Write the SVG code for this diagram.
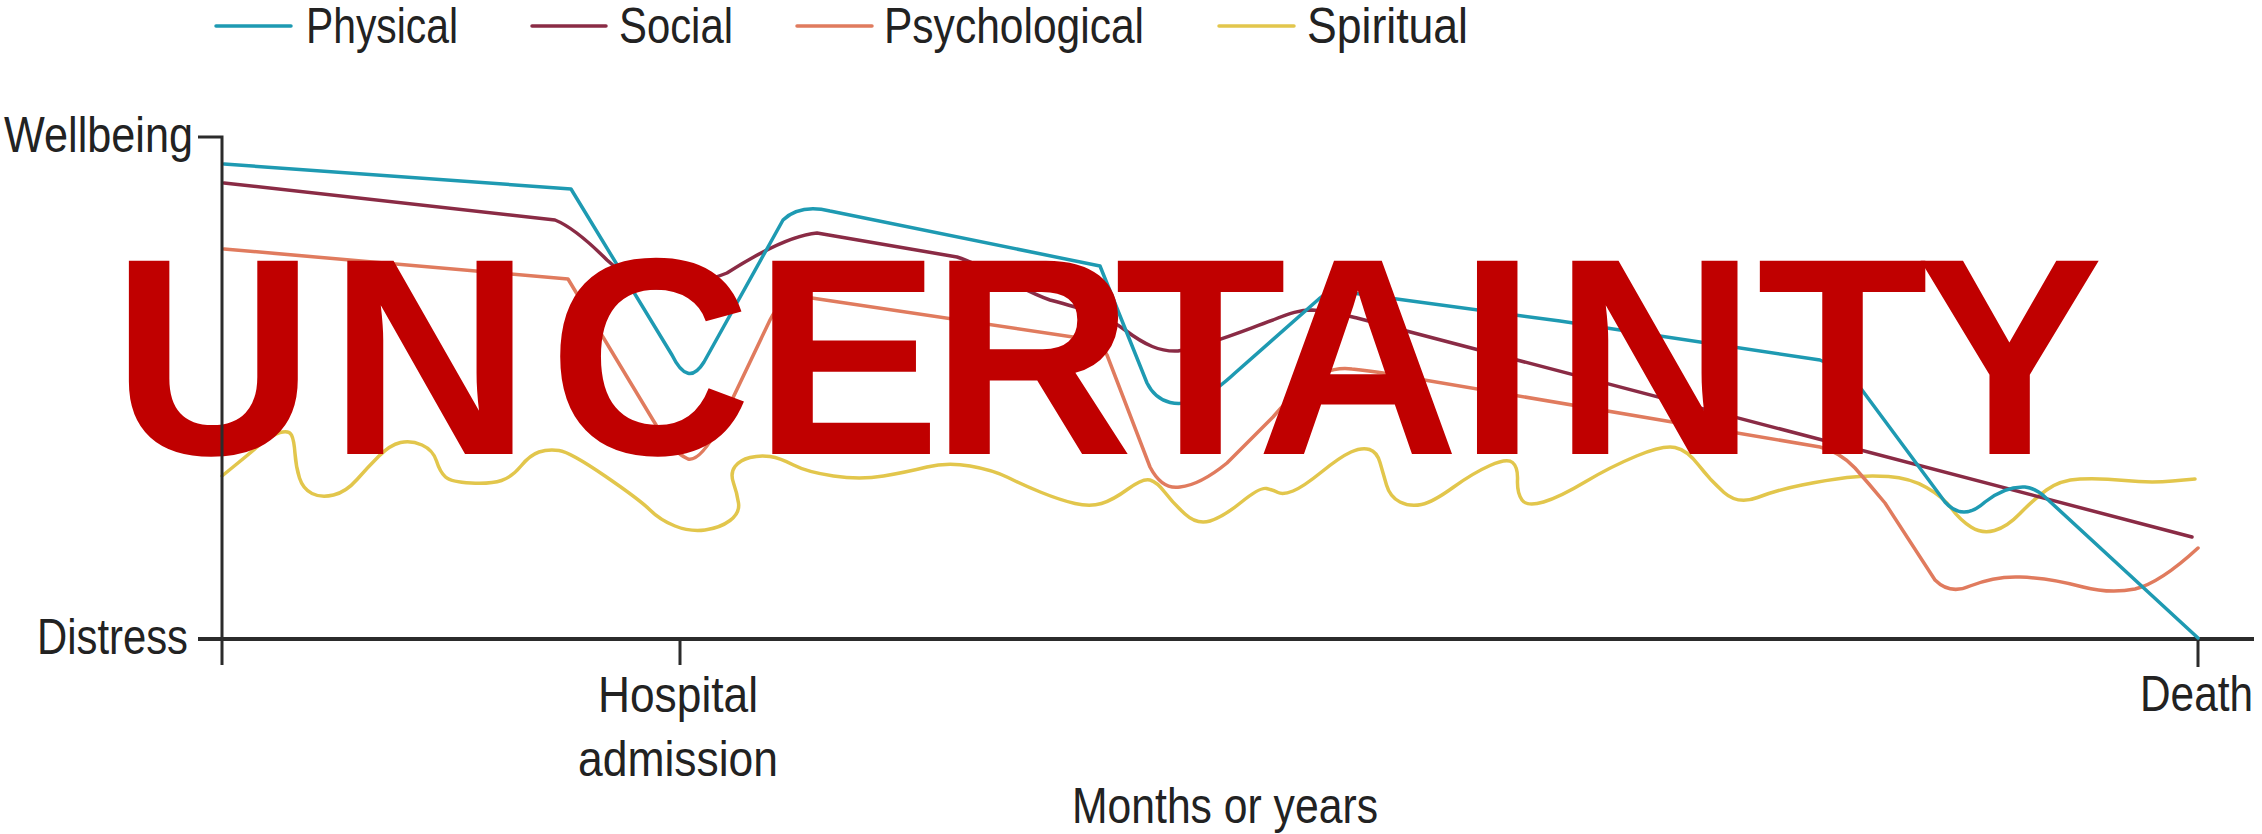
<svg xmlns="http://www.w3.org/2000/svg" width="2262" height="834" viewBox="0 0 2262 834">
<style>
.lbl{font-family:"Liberation Sans",Arial,sans-serif;font-size:50px;fill:#222;}
.ax{stroke:#2b2b2b;fill:none;stroke-linecap:butt;}
.crv{fill:none;stroke-width:3.5;stroke-linejoin:round;stroke-linecap:round;}
.phy{stroke:#1e9ab2;}
.soc{stroke:#8a2b45;}
.psy{stroke:#e07b5e;}
.spi{stroke:#e2c64c;}
.big{font-family:"Liberation Sans",Arial,sans-serif;font-weight:bold;font-size:281px;fill:#c00000;}
</style>
<rect width="2262" height="834" fill="#fff"/>
<g id="legend">
<line class="crv phy" x1="216" y1="26" x2="291" y2="26" stroke-linecap="butt" stroke-width="4"/>
<text class="lbl" x="306" y="43" textLength="152" lengthAdjust="spacingAndGlyphs">Physical</text>
<line class="crv soc" x1="532" y1="26" x2="606" y2="26" stroke-linecap="butt" stroke-width="4"/>
<text class="lbl" x="619" y="43" textLength="114" lengthAdjust="spacingAndGlyphs">Social</text>
<line class="crv psy" x1="797" y1="26" x2="872" y2="26" stroke-linecap="butt" stroke-width="4"/>
<text class="lbl" x="884" y="43" textLength="260" lengthAdjust="spacingAndGlyphs">Psychological</text>
<line class="crv spi" x1="1219" y1="26" x2="1294" y2="26" stroke-linecap="butt" stroke-width="4"/>
<text class="lbl" x="1307" y="43" textLength="161" lengthAdjust="spacingAndGlyphs">Spiritual</text>
</g>
<g id="axes">
<path class="ax" stroke-width="4" d="M198,639 H2254"/>
<line class="ax" stroke-width="3" x1="680" y1="639" x2="680" y2="665"/>
<line class="ax" stroke-width="3" x1="2198" y1="639" x2="2198" y2="667"/>
<text class="lbl" x="4" y="152" textLength="189" lengthAdjust="spacingAndGlyphs">Wellbeing</text>
<text class="lbl" x="37" y="654" textLength="151" lengthAdjust="spacingAndGlyphs">Distress</text>
<text class="lbl" x="598" y="712" textLength="160" lengthAdjust="spacingAndGlyphs">Hospital</text>
<text class="lbl" x="578" y="776" textLength="200" lengthAdjust="spacingAndGlyphs">admission</text>
<text class="lbl" x="2140" y="711" textLength="113" lengthAdjust="spacingAndGlyphs">Death</text>
<text class="lbl" x="1072" y="823" textLength="306" lengthAdjust="spacingAndGlyphs">Months or years</text>
</g>
<g id="connectors">
<path id="spiritual" class="crv spi" d="M222,476 L235.5,465 Q249,454 260,444.5 Q271,435 280,432.5 Q289,430 291.5,435 Q294,440 295,453.5 Q296,467 299.5,478 Q303,489 312,493.5 Q321,498 333.5,495 Q346,492 357,479.5 Q368,467 379,456 Q390,445 400.5,442.5 Q411,440 422,445 Q433,450 436.5,461 Q440,472 445.5,477 Q451,482 471,483 Q491,484 501.5,480.5 Q512,477 521,466 Q530,455 539,452 Q548,449 559,450.5 Q570,452 605,476 Q640,500 650,510 Q660,520 675,526 Q690,532 705,530 Q720,528 730,520.5 Q740,513 738.5,503 Q737,493 733.5,483 Q730,473 735,466.5 Q740,460 750,457.5 Q760,455 770,456.5 Q780,458 793.5,465 Q807,472 833.5,476 Q860,480 883.5,476 Q907,472 927,467 Q947,462 970,466 Q993,470 1008,477.5 Q1023,485 1041.5,492.5 Q1060,500 1075,503.5 Q1090,507 1101.5,503.5 Q1113,500 1128,489 Q1143,478 1150,480 Q1157,482 1165,492.5 Q1173,503 1185,514 Q1197,525 1210,521 Q1223,517 1241.5,502 Q1260,487 1266.5,488.5 Q1273,490 1278,492.5 Q1283,495 1293,491 Q1303,487 1321.5,472 Q1340,457 1351,452 Q1362,447 1369.5,449.5 Q1377,452 1380,462.5 Q1383,473 1386.5,485 Q1390,497 1400,502 Q1410,507 1421.5,504.5 Q1433,502 1453,487.5 Q1473,473 1490,465.5 Q1507,458 1512.5,462.5 Q1518,467 1517.5,480 Q1517,493 1522,500 Q1527,507 1543.5,502 Q1560,497 1585,482 Q1610,467 1636.5,456 Q1663,445 1675,447.5 Q1687,450 1698.5,465 Q1710,480 1724,492.5 Q1738,505 1757.5,497.5 Q1777,490 1802,485 Q1827,480 1847,477.5 Q1867,475 1888.5,476.5 Q1910,478 1926.5,487.5 Q1943,497 1951.5,508.5 Q1960,520 1971,527 Q1982,534 1994.5,530.5 Q2007,527 2020,513.5 Q2033,500 2046.5,490 Q2060,480 2080,479 Q2100,478 2125,480.5 Q2150,483 2172.5,481 L2195,479"/>
<path id="psychological" class="crv psy" d="M224,249 L568,279 L653,420 Q672,452 688,459 Q700,462 720,425 L770,320 Q782,296 805,297 L1093,340 Q1100,343 1107,355 L1150,467 Q1162,490 1180,487 Q1200,485 1227,463 L1273,417 Q1300,385 1323,373 Q1338,367 1352,369 Q1370,371 1383,373 L1820,447 Q1840,452 1855,468 Q1870,485 1885,503 L1935,580 Q1950,595 1970,586 Q1995,576 2020,577 Q2050,578 2083,587 Q2110,594 2135,589 Q2160,583 2198,548"/>
<path id="social" class="crv soc" d="M224,183 L555,220 Q575,228 607,260 Q640,290 660,288 Q700,284 727,273 Q785,236 817,233 L957,257 C990,268 1020,290 1050,300 C1080,308 1105,315 1125,330 C1145,345 1160,352 1178,351 C1210,345 1245,330 1273,320 C1290,313 1300,310 1312,310 C1330,311 1345,315 1357,318 L2192,537"/>
<path id="physical" class="crv phy" d="M224,164 L571,189 L672,355 Q688,388 704,362 L783,220 Q800,204 830,211 L1100,266 L1147,383 C1158,405 1180,408 1200,398 C1215,390 1222,385 1235,373 L1320,298 Q1330,290 1345,292 L1560,321 L1820,360 Q1845,370 1862,390 L1945,502 Q1963,522 1985,502 Q2005,486 2025,487 Q2035,488 2045,497 L2198,638"/>
</g>
<g id="title">
<text class="big" x="112 328.5 548.7 753.5 930.5 1114.7 1256.5 1458.2 1553.5 1756.7 1915.8" y="454">UNCERTAINTY</text>
</g>
<g id="y-axis">
<path class="ax" stroke-width="3" d="M198,137 H222 V665"/>
</g>
</svg>
